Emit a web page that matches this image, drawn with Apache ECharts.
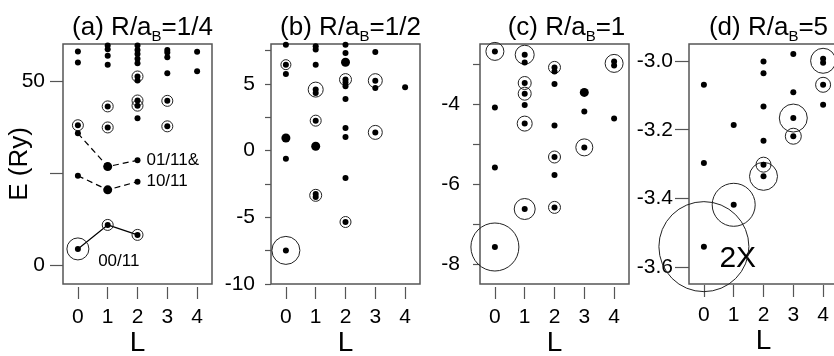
<!DOCTYPE html>
<html>
<head>
  <meta charset="utf-8" />
  <script src="https://cdn.jsdelivr.net/npm/echarts@6/dist/echarts.min.js"></script>
  <style>
    body { margin: 0; background: #fff; }
    #main { width: 834px; height: 356px; }
  </style>
</head>
<body>
<div id="main"></div>
<script>
  // axis ticks
  let xTicks = [0, 1, 2, 3, 4]
  let yTicksA = [0, 25, 50], yLabelsA = [0, 50]
  let yTicksB = [-10, -7.5, -5, -2.5, 0, 2.5, 5, 7.5], yLabelsB = [-10, -5, 0, 5]
  let yTicksC = [-8, -7, -6, -5, -4, -3], yLabelsC = [-8, -6, -4]
  let yTicksD = [-3.6, -3.4, -3.2, -3.0], yLabelsD = [-3.6, -3.4, -3.2, -3.0]

  let titles = ['(a) R/a{s|B}=1/4', '(b) R/a{s|B}=1/2', '(c) R/a{s|B}=1', '(d) R/a{s|B}=5']

  // (a) R/aB=1/4
  let dotsA = [
    [0, 58.0], [0, 55.0], [0, 38.0], [0, 35.8], [0, 24.3], [0, 4.5],
    [1, 59.6], [1, 58.6], [1, 56.8], [1, 54.4], [1, 43.1], [1, 37.4], [1, 11.0],
    [2, 59.6], [2, 58.4], [2, 57.3], [2, 56.0], [2, 54.8], [2, 51.2], [2, 50.1], [2, 44.7], [2, 43.3], [2, 39.9], [2, 28.5], [2, 22.7], [2, 8.3],
    [3, 58.4], [3, 57.7], [3, 56.4], [3, 52.1], [3, 44.6], [3, 37.7],
    [4, 57.9], [4, 52.6]
  ]
  let bigDotsA = [[1, 26.8], [1, 20.5]]
  let ringsA = [
    [0, 38.0, 11], [1, 43.1, 11], [1, 37.4, 11], [2, 51.2, 11], [2, 44.7, 11], [2, 43.3, 11],
    [3, 44.6, 11], [3, 37.7, 11], [1, 11.0, 11], [2, 8.3, 11], [0, 4.5, 22]
  ]
  let line00 = [[0, 4.5], [1, 11.0], [2, 8.3]]
  let line01 = [[0, 35.8], [1, 26.8], [2, 28.5]]
  let line10 = [[0, 24.3], [1, 20.5], [2, 22.7]]
  let notesA = [[2.3, 28.5, '01/11&'], [2.3, 22.7, '10/11'], [0.68, 1.1, '00/11']]

  // (b) R/aB=1/2
  let dotsB = [
    [0, 7.95], [0, 6.45], [0, 5.75], [0, -0.6], [0, -7.48],
    [1, 7.83], [1, 7.58], [1, 6.45], [1, 4.58], [1, 4.33], [1, 2.25], [1, -3.25], [1, -3.47],
    [2, 7.95], [2, 7.33], [2, 5.33], [2, 5.12], [2, 4.83], [2, 3.88], [2, 1.7], [2, 1.03], [2, -2.05], [2, -5.35],
    [3, 7.4], [3, 5.25], [3, 4.7], [3, 1.37],
    [4, 4.75]
  ]
  let bigDotsB = [[0, 0.95], [1, 0.33], [2, 6.63]]
  let ringsB = [
    [0, 6.45, 10], [1, 4.58, 15], [1, 2.25, 11], [1, -3.35, 12], [2, 5.33, 12], [2, -5.35, 11],
    [3, 5.25, 14], [3, 1.37, 14], [0, -7.48, 28]
  ]

  // (c) R/aB=1
  let dotsC = [
    [0, -2.685], [0, -4.085], [0, -5.585], [0, -7.575],
    [1, -2.768], [1, -2.96], [1, -3.475], [1, -3.742], [1, -4.025], [1, -4.49], [1, -6.625],
    [2, -3.085], [2, -3.185], [2, -3.5], [2, -4.54], [2, -5.325], [2, -5.775], [2, -6.585],
    [3, -4.185], [3, -5.085],
    [4, -2.935], [4, -3.035], [4, -4.36]
  ]
  let bigDotsC = [[3, -3.71]]
  let ringsC = [
    [0, -2.685, 18], [1, -2.768, 19], [1, -3.475, 13], [1, -3.742, 13], [1, -4.49, 15], [1, -6.625, 21],
    [2, -3.085, 12], [2, -5.325, 12], [2, -6.585, 12], [3, -5.085, 17], [4, -2.985, 18], [0, -7.575, 48]
  ]

  // (d) R/aB=5
  let dotsD = [
    [0, -3.069], [0, -3.297], [0, -3.541],
    [1, -3.186], [1, -3.419],
    [2, -3.001], [2, -3.035], [2, -3.132], [2, -3.232], [2, -3.302], [2, -3.336],
    [3, -2.979], [3, -3.091], [3, -3.166], [3, -3.219],
    [4, -2.993], [4, -3.005], [4, -3.069], [4, -3.127]
  ]
  let bigDotsD = []
  let ringsD = [
    [0, -3.541, 90], [1, -3.419, 43], [2, -3.302, 15], [2, -3.336, 28],
    [3, -3.166, 28], [3, -3.219, 16], [4, -2.999, 25], [4, -3.069, 15]
  ]
  let notesD = [[0.52, -3.575, '2X']]

  let font = 'Liberation Sans'
  let ink = '#000'
  let frame = '#555'
  let gridLefts = [63, 271, 480, 689]
  let gridTop = 44, gridW = 149, gridH = 240
  let yTickLen = [13, 6, 7, 14]
  let yLabelGap = [18, 16, 20, 16]
  let xOffset = [3, 3, 3, 1]

  let yRanges = [[-5, 60], [-10, 8], [-8.5, -2.5], [-3.65, -2.95]]
  let yTicks = [yTicksA, yTicksB, yTicksC, yTicksD]
  let yLabels = [yLabelsA, yLabelsB, yLabelsC, yLabelsD]

  let chart = echarts.init(document.getElementById('main'))

  let grids = [], xAxes = [], yAxes = [], titleList = [], series = []

  for (let i = 0; i < 4; i++) {
    grids.push({
      left: gridLefts[i], top: gridTop, width: gridW, height: gridH,
      outerBoundsMode: 'none', containLabel: false,
      show: true, borderColor: frame, borderWidth: 1.5, backgroundColor: 'transparent'
    })
    xAxes.push({
      gridIndex: i, type: 'value', min: -0.5, max: 4.5, offset: xOffset[i],
      name: 'L', nameLocation: 'middle', nameGap: 42, nameMoveOverlap: false,
      nameTextStyle: { fontFamily: font, fontSize: 28, color: ink },
      axisLine: { show: false, onZero: false },
      axisTick: { show: true, length: 12, customValues: xTicks, lineStyle: { color: frame, width: 1.2 } },
      axisLabel: { customValues: xTicks, margin: 20, fontFamily: font, fontSize: 21, color: ink },
      splitLine: { show: false }
    })
    yAxes.push({
      gridIndex: i, type: 'value', min: yRanges[i][0], max: yRanges[i][1],
      name: i === 0 ? 'E (Ry)' : '', nameLocation: 'middle', nameGap: 30, nameMoveOverlap: false,
      nameTextStyle: { fontFamily: font, fontSize: 26, color: ink },
      axisLine: { show: false, onZero: false },
      axisTick: { show: true, length: yTickLen[i], customValues: yTicks[i], lineStyle: { color: frame, width: 1.2 } },
      axisLabel: {
        customValues: yLabels[i], margin: yLabelGap[i], fontFamily: font, fontSize: 21, color: ink,
        formatter: i === 3 ? (v) => v.toFixed(1) : (v) => String(v)
      },
      splitLine: { show: false }
    })
    titleList.push({
      text: titles[i],
      left: gridLefts[i] + gridW / 2 + (i === 2 ? 7 : 0),
      top: 7,
      textAlign: 'center',
      textStyle: {
        fontFamily: font, fontSize: 26, fontWeight: 'normal', color: ink,
        rich: {
          s: { fontFamily: font, fontSize: 15, color: ink, padding: [17, 0, 0, 0], verticalAlign: 'top' }
        }
      }
    })
  }

  let dotSets = [dotsA, dotsB, dotsC, dotsD]
  let bigSets = [bigDotsA, bigDotsB, bigDotsC, bigDotsD]
  let ringSets = [ringsA, ringsB, ringsC, ringsD]

  for (let i = 0; i < 4; i++) {
    series.push({
      type: 'scatter', xAxisIndex: i, yAxisIndex: i, data: ringSets[i], clip: false,
      symbol: 'circle', symbolSize: (v) => v[2], silent: true,
      itemStyle: { color: 'rgba(0,0,0,0)', borderColor: '#222', borderWidth: 1, opacity: 1 }, z: 3
    })
    series.push({
      type: 'scatter', xAxisIndex: i, yAxisIndex: i, data: dotSets[i], symbolSize: 6,
      itemStyle: { color: ink, opacity: 1 }, z: 4
    })
    series.push({
      type: 'scatter', xAxisIndex: i, yAxisIndex: i, data: bigSets[i], symbolSize: 9,
      itemStyle: { color: ink, opacity: 1 }, z: 4
    })
  }

  // lines in (a)
  series.push({
    type: 'line', xAxisIndex: 0, yAxisIndex: 0, data: line00, symbol: 'none',
    lineStyle: { color: ink, width: 1.2 }, z: 2
  })
  for (let d of [line01, line10]) {
    series.push({
      type: 'line', xAxisIndex: 0, yAxisIndex: 0, data: d, symbol: 'none',
      lineStyle: { color: ink, width: 1.2, type: [6, 4] }, z: 2
    })
  }

  // text notes
  series.push({
    type: 'scatter', xAxisIndex: 0, yAxisIndex: 0, symbolSize: 0,
    itemStyle: { opacity: 1 },
    data: notesA.map(n => ({ value: [n[0], n[1]], name: n[2] })),
    label: { show: true, position: 'right', distance: 0, formatter: '{b}', fontFamily: font, fontSize: 17, color: ink }
  })
  series.push({
    type: 'scatter', xAxisIndex: 3, yAxisIndex: 3, symbolSize: 0, clip: false,
    itemStyle: { opacity: 1 },
    data: notesD.map(n => ({ value: [n[0], n[1]], name: n[2] })),
    label: { show: true, position: 'right', distance: 0, formatter: '{b}', fontFamily: font, fontSize: 30, color: ink }
  })

  chart.setOption({
    animation: false,
    backgroundColor: '#fff',
    title: titleList,
    grid: grids,
    xAxis: xAxes,
    yAxis: yAxes,
    series: series
  })
</script>
</body>
</html>
